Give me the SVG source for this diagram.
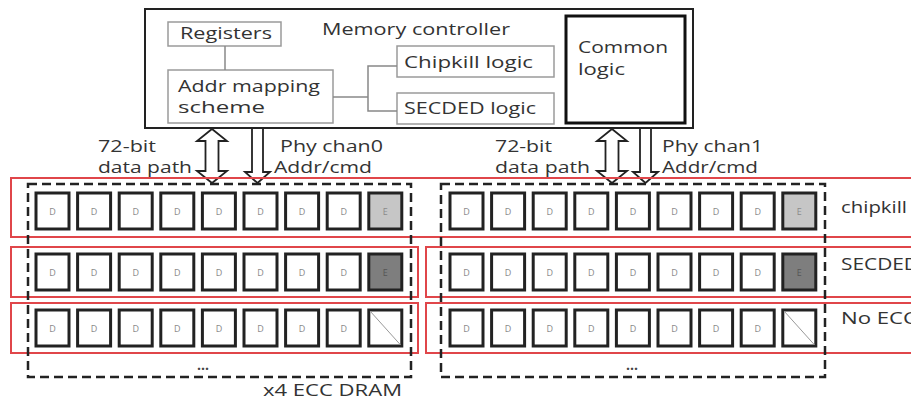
<svg xmlns="http://www.w3.org/2000/svg" xmlns:xlink="http://www.w3.org/1999/xlink" width="911" height="403" viewBox="0 0 911 403">
<style>
text{font-family:"Open Sans","Liberation Sans",sans-serif;fill:#333;}
.lbl{font-size:15.5px;}
.sm{fill:none;stroke:#9a9a9a;stroke-width:1.5;}
.conn{fill:none;stroke:#888;stroke-width:1.5;}
.red{fill:none;stroke:#e0464a;stroke-width:2;}
.dash{fill:none;stroke:#222;stroke-width:2.5;stroke-dasharray:9,5;}
.chip{fill:#fff;stroke:#222;stroke-width:3;}
.cl{font-size:9px;fill:#8a8a8a;text-anchor:middle;}
.arr{fill:#fff;stroke:#222;stroke-width:1.8;stroke-linejoin:miter;}
</style>
<defs>
<g id="chip"><rect class="chip" x="0" y="0" width="33" height="36"/></g>
<g id="drow">
<use xlink:href="#chip" x="0"/><text class="cl" x="16.5" y="22">D</text>
<use xlink:href="#chip" x="41.6"/><text class="cl" x="58.1" y="22">D</text>
<use xlink:href="#chip" x="83.2"/><text class="cl" x="99.7" y="22">D</text>
<use xlink:href="#chip" x="124.8"/><text class="cl" x="141.3" y="22">D</text>
<use xlink:href="#chip" x="166.4"/><text class="cl" x="182.9" y="22">D</text>
<use xlink:href="#chip" x="208"/><text class="cl" x="224.5" y="22">D</text>
<use xlink:href="#chip" x="249.6"/><text class="cl" x="266.1" y="22">D</text>
<use xlink:href="#chip" x="291.2"/><text class="cl" x="307.7" y="22">D</text>
</g>
<g id="row-ck"><use xlink:href="#drow"/><rect class="chip" x="332.8" y="0" width="33" height="36" style="fill:#c6c6c6"/><text class="cl" x="349.3" y="22">E</text></g>
<g id="row-sd"><use xlink:href="#drow"/><rect class="chip" x="332.8" y="0" width="33" height="36" style="fill:#7e7e7e"/><text class="cl" x="349.3" y="22" style="fill:#555">E</text></g>
<g id="row-no"><use xlink:href="#drow"/><rect class="chip" x="332.8" y="0" width="33" height="36"/><line x1="334" y1="1" x2="364.6" y2="35" stroke="#999" stroke-width="1"/></g>
</defs>
<rect x="0" y="0" width="911" height="403" fill="#fff"/>

<g id="memory-controller">
<rect x="145" y="9" width="548" height="119" fill="#fff" stroke="#222" stroke-width="2"/>
<text class="lbl" x="322" y="35" textLength="188" lengthAdjust="spacingAndGlyphs">Memory controller</text>
</g>
<g id="registers">
<rect class="sm" x="168" y="22" width="113" height="24"/>
<text class="lbl" x="180" y="39" textLength="92" lengthAdjust="spacingAndGlyphs">Registers</text>
</g>
<g id="addr-mapping">
<rect class="sm" x="168" y="70" width="165" height="53"/>
<text class="lbl" x="178" y="92" textLength="142" lengthAdjust="spacingAndGlyphs">Addr mapping</text>
<text class="lbl" x="178" y="113" textLength="87" lengthAdjust="spacingAndGlyphs">scheme</text>
</g>
<g id="chipkill-logic">
<rect class="sm" x="397" y="46" width="157" height="31"/>
<text class="lbl" x="404" y="68" textLength="129" lengthAdjust="spacingAndGlyphs">Chipkill logic</text>
</g>
<g id="secded-logic">
<rect class="sm" x="397" y="93" width="157" height="31"/>
<text class="lbl" x="404" y="114" textLength="132" lengthAdjust="spacingAndGlyphs">SECDED logic</text>
</g>
<g id="common-logic">
<rect x="566" y="16" width="119" height="107" fill="#fff" stroke="#111" stroke-width="3"/>
<text class="lbl" x="578" y="53" textLength="90" lengthAdjust="spacingAndGlyphs">Common</text>
<text class="lbl" x="578" y="75" textLength="47" lengthAdjust="spacingAndGlyphs">logic</text>
</g>

<g id="connectors">
<line class="conn" x1="225" y1="46" x2="225" y2="70"/>
<polyline class="conn" points="333,97 368,97"/>
<polyline class="conn" points="397,66 368,66 368,111 397,111"/>
<polygon class="arr" points="212,129 227,141 218.5,141 218.5,171 227,171 212,183 197,171 205.5,171 205.5,141 197,141"/>
<polygon class="arr" points="252,128 263,128 263,172 270,172 257.5,183 245,172 252,172"/>
<polygon class="arr" points="612,129 627,141 618.5,141 618.5,171 627,171 612,183 597,171 605.5,171 605.5,141 597,141"/>
<polygon class="arr" points="640,128 651,128 651,172 658,172 645.5,183 633,172 640,172"/>
</g>

<g id="path-labels">
<text class="lbl" x="98" y="152" textLength="58" lengthAdjust="spacingAndGlyphs">72-bit</text>
<text class="lbl" x="98" y="173" textLength="94" lengthAdjust="spacingAndGlyphs">data path</text>
<text class="lbl" x="280" y="152" textLength="103" lengthAdjust="spacingAndGlyphs">Phy chan0</text>
<text class="lbl" x="274" y="173" textLength="98" lengthAdjust="spacingAndGlyphs">Addr/cmd</text>
<text class="lbl" x="495" y="152" textLength="57" lengthAdjust="spacingAndGlyphs">72-bit</text>
<text class="lbl" x="495" y="173" textLength="95" lengthAdjust="spacingAndGlyphs">data path</text>
<text class="lbl" x="662" y="152" textLength="101" lengthAdjust="spacingAndGlyphs">Phy chan1</text>
<text class="lbl" x="662" y="173" textLength="96" lengthAdjust="spacingAndGlyphs">Addr/cmd</text>
</g>

<g id="ecc-rows">
<rect class="red" x="11" y="178" width="910" height="59"/>
<rect class="red" x="11" y="247" width="407" height="50"/>
<rect class="red" x="426" y="247" width="495" height="50"/>
<rect class="red" x="11" y="303" width="407" height="50"/>
<rect class="red" x="426" y="303" width="495" height="50"/>
<text class="lbl" x="841" y="213" textLength="66" lengthAdjust="spacingAndGlyphs">chipkill</text>
<text class="lbl" x="841" y="270" textLength="78" lengthAdjust="spacingAndGlyphs">SECDED</text>
<text class="lbl" x="841" y="324" textLength="76" lengthAdjust="spacingAndGlyphs">No ECC</text>
</g>

<g id="dimm0">
<rect class="dash" x="28" y="184" width="383" height="193"/>
<use xlink:href="#row-ck" x="36" y="193"/>
<use xlink:href="#row-sd" x="36" y="254"/>
<use xlink:href="#row-no" x="36" y="310"/>
<text x="203" y="370" style="font-size:14px;font-weight:bold;fill:#444;text-anchor:middle">...</text>
</g>
<g id="dimm1">
<rect class="dash" x="441" y="184" width="384" height="193"/>
<use xlink:href="#row-ck" x="450" y="193"/>
<use xlink:href="#row-sd" x="450" y="254"/>
<use xlink:href="#row-no" x="450" y="310"/>
<text x="632" y="370" style="font-size:14px;font-weight:bold;fill:#444;text-anchor:middle">...</text>
</g>

<g id="caption">
<text x="263" y="396" style="font-size:17px" textLength="139" lengthAdjust="spacingAndGlyphs">x4 ECC DRAM</text>
</g>
</svg>
